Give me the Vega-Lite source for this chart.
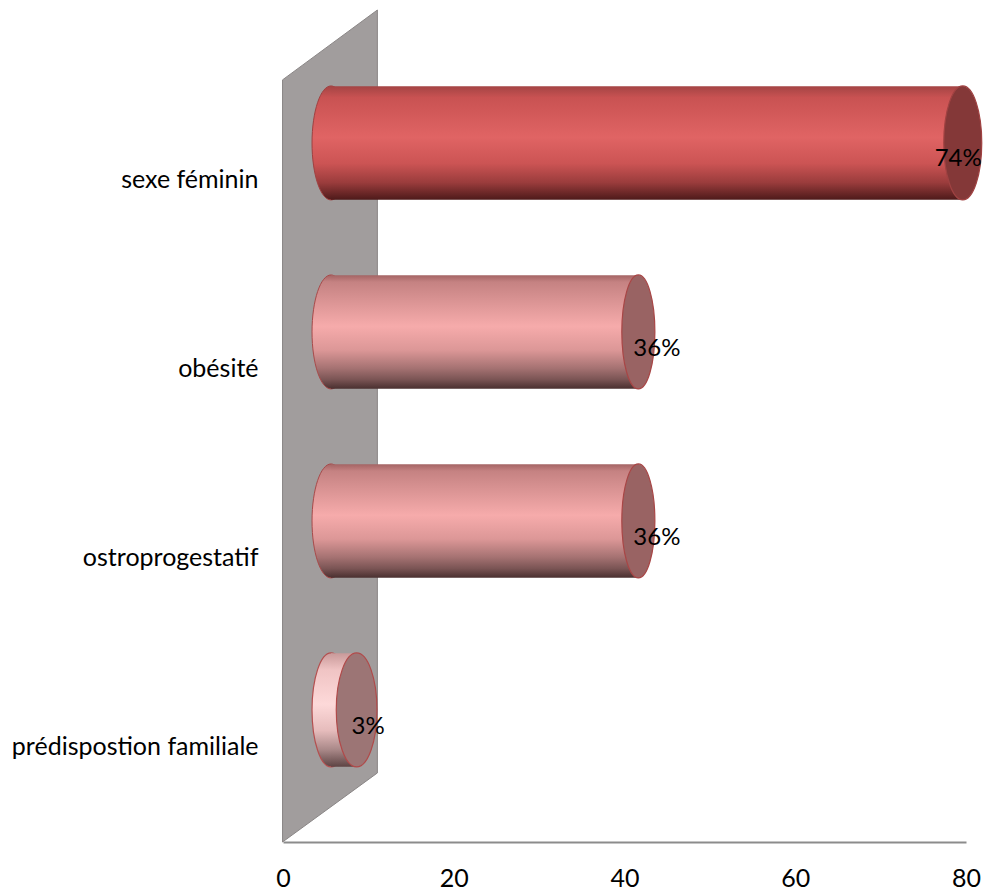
{
  "$schema": "https://vega.github.io/schema/vega-lite/v6.json",
  "width": 683,
  "height": 832,
  "autosize": {"type": "none"},
  "padding": {"left": 283, "top": 10, "right": 19, "bottom": 48},
  "background": "white",
  "config": {
    "view": {"stroke": null},
    "font": "Lato",
    "text": {"font": "Lato"}
  },
  "data": {
    "values": [
      {"facteur": "sexe féminin", "valeur": 74, "label": "74%"},
      {"facteur": "obésité", "valeur": 36, "label": "36%"},
      {"facteur": "ostroprogestatif", "valeur": 36, "label": "36%"},
      {"facteur": "prédispostion familiale", "valeur": 3, "label": "3%"}
    ]
  },
  "encoding": {
    "y": {
      "field": "facteur",
      "type": "nominal",
      "sort": null,
      "scale": {"paddingInner": 0.4, "paddingOuter": 0.401, "align": 0.747},
      "axis": {
        "title": null,
        "domain": false,
        "ticks": false,
        "tickSize": 0,
        "labelPadding": 25,
        "labelFontSize": 25,
        "labelColor": "#000000",
        "labelFont": "Lato",
        "labelLimit": 500
      }
    }
  },
  "layer": [
    {
      "data": {"values": [{}]},
      "mark": {
        "type": "point",
        "filled": true,
        "shape": "M-0.114,-0.832L0.114,-1L0.114,0.834L-0.114,1Z",
        "size": 692224,
        "fill": "#a19d9d",
        "stroke": "#8a8686",
        "strokeWidth": 1,
        "opacity": 1
      },
      "encoding": {
        "x": {"datum": 5.5, "type": "quantitative"},
        "y": null
      }
    },
    {
      "transform": [{"filter": "datum.valeur > 50"}],
      "mark": {
        "type": "point", "filled": true, "opacity": 1,
        "shape": "M0,-1C0.184,-1,0.333,-0.552,0.333,0C0.333,0.552,0.184,1,0,1C-0.184,1,-0.333,0.552,-0.333,0C-0.333,-0.552,-0.184,-1,0,-1Z",
        "size": 12996, "xOffset": 48, "yOffset": -37,
        "fill": {"gradient": "linear", "x1": 0, "y1": 0, "x2": 0, "y2": 1,
          "stops": [{"offset": 0, "color": "#a44444"}, {"offset": 0.1, "color": "#c95252"}, {"offset": 0.45, "color": "#e06464"}, {"offset": 0.68, "color": "#cc5454"}, {"offset": 0.85, "color": "#9a3c3c"}, {"offset": 1, "color": "#4e1a1a"}]},
        "stroke": "#a04040", "strokeWidth": 1
      },
      "encoding": {"x": {"datum": 0, "type": "quantitative"}}
    },
    {
      "transform": [{"filter": "datum.valeur > 50"}],
      "mark": {
        "type": "bar", "xOffset": 48, "yOffset": -37,
        "fill": {"gradient": "linear", "x1": 0, "y1": 0, "x2": 0, "y2": 1,
          "stops": [{"offset": 0, "color": "#a44444"}, {"offset": 0.1, "color": "#c95252"}, {"offset": 0.45, "color": "#e06464"}, {"offset": 0.68, "color": "#cc5454"}, {"offset": 0.85, "color": "#9a3c3c"}, {"offset": 1, "color": "#4e1a1a"}]}
      },
      "encoding": {
        "x": {
          "field": "valeur", "type": "quantitative",
          "scale": {"domain": [0, 80], "nice": false, "zero": true},
          "axis": {
            "title": null, "values": [0, 20, 40, 60, 80], "grid": false,
            "ticks": false, "tickSize": 0,
            "domainColor": "#8c8c8c", "domainWidth": 2,
            "labelPadding": 24, "labelFontSize": 25, "labelColor": "#000000",
            "labelFont": "Lato", "labelFlush": false
          }
        }
      }
    },
    {
      "transform": [{"filter": "datum.valeur > 10 && datum.valeur < 50"}],
      "mark": {
        "type": "point", "filled": true, "opacity": 1,
        "shape": "M0,-1C0.184,-1,0.333,-0.552,0.333,0C0.333,0.552,0.184,1,0,1C-0.184,1,-0.333,0.552,-0.333,0C-0.333,-0.552,-0.184,-1,0,-1Z",
        "size": 12996, "xOffset": 48, "yOffset": -37,
        "fill": {"gradient": "linear", "x1": 0, "y1": 0, "x2": 0, "y2": 1,
          "stops": [{"offset": 0, "color": "#a46464"}, {"offset": 0.06, "color": "#c58282"}, {"offset": 0.45, "color": "#f6abab"}, {"offset": 0.66, "color": "#dc9797"}, {"offset": 0.82, "color": "#a57272"}, {"offset": 0.92, "color": "#7a5454"}, {"offset": 1, "color": "#4a3030"}]},
        "stroke": "#a84a4a", "strokeWidth": 1
      },
      "encoding": {"x": {"datum": 0, "type": "quantitative"}}
    },
    {
      "transform": [{"filter": "datum.valeur > 10 && datum.valeur < 50"}],
      "mark": {
        "type": "bar", "xOffset": 48, "yOffset": -37,
        "fill": {"gradient": "linear", "x1": 0, "y1": 0, "x2": 0, "y2": 1,
          "stops": [{"offset": 0, "color": "#a46464"}, {"offset": 0.06, "color": "#c58282"}, {"offset": 0.45, "color": "#f6abab"}, {"offset": 0.66, "color": "#dc9797"}, {"offset": 0.82, "color": "#a57272"}, {"offset": 0.92, "color": "#7a5454"}, {"offset": 1, "color": "#4a3030"}]}
      },
      "encoding": {"x": {"field": "valeur", "type": "quantitative"}}
    },
    {
      "transform": [{"filter": "datum.valeur < 10"}],
      "mark": {
        "type": "point", "filled": true, "opacity": 1,
        "shape": "M0,-1C0.184,-1,0.333,-0.552,0.333,0C0.333,0.552,0.184,1,0,1C-0.184,1,-0.333,0.552,-0.333,0C-0.333,-0.552,-0.184,-1,0,-1Z",
        "size": 12996, "xOffset": 48, "yOffset": -37,
        "fill": {"gradient": "linear", "x1": 0, "y1": 0, "x2": 0, "y2": 1,
          "stops": [{"offset": 0, "color": "#c99a9a"}, {"offset": 0.15, "color": "#f0c4c4"}, {"offset": 0.45, "color": "#fdd9d9"}, {"offset": 0.68, "color": "#e6bcbc"}, {"offset": 0.85, "color": "#a98888"}, {"offset": 1, "color": "#5e4444"}]},
        "stroke": "#b45050", "strokeWidth": 1.2
      },
      "encoding": {"x": {"datum": 0, "type": "quantitative"}}
    },
    {
      "transform": [{"filter": "datum.valeur < 10"}],
      "mark": {
        "type": "bar", "xOffset": 48, "yOffset": -37,
        "fill": {"gradient": "linear", "x1": 0, "y1": 0, "x2": 0, "y2": 1,
          "stops": [{"offset": 0, "color": "#c99a9a"}, {"offset": 0.15, "color": "#f0c4c4"}, {"offset": 0.45, "color": "#fdd9d9"}, {"offset": 0.68, "color": "#e6bcbc"}, {"offset": 0.85, "color": "#a98888"}, {"offset": 1, "color": "#5e4444"}]}
      },
      "encoding": {"x": {"field": "valeur", "type": "quantitative"}}
    },
    {
      "transform": [{"filter": "datum.valeur > 50"}],
      "mark": {
        "type": "point", "filled": true, "opacity": 1,
        "shape": "M0,-1C0.184,-1,0.333,-0.552,0.333,0C0.333,0.552,0.184,1,0,1C-0.184,1,-0.333,0.552,-0.333,0C-0.333,-0.552,-0.184,-1,0,-1Z",
        "size": 12996, "xOffset": 48, "yOffset": -37,
        "fill": "#843838", "stroke": "#a04242", "strokeWidth": 1.2
      },
      "encoding": {"x": {"field": "valeur", "type": "quantitative"}}
    },
    {
      "transform": [{"filter": "datum.valeur > 10 && datum.valeur < 50"}],
      "mark": {
        "type": "point", "filled": true, "opacity": 1,
        "shape": "M0,-1C0.161,-1,0.29,-0.552,0.29,0C0.29,0.552,0.161,1,0,1C-0.161,1,-0.29,0.552,-0.29,0C-0.29,-0.552,-0.161,-1,0,-1Z",
        "size": 12996, "xOffset": 48, "yOffset": -37,
        "fill": "#996363", "stroke": "#a84646", "strokeWidth": 1.2
      },
      "encoding": {"x": {"field": "valeur", "type": "quantitative"}}
    },
    {
      "transform": [{"filter": "datum.valeur < 10"}],
      "mark": {
        "type": "point", "filled": true, "opacity": 1,
        "shape": "M0,-1C0.197,-1,0.357,-0.552,0.357,0C0.357,0.552,0.197,1,0,1C-0.197,1,-0.357,0.552,-0.357,0C-0.357,-0.552,-0.197,-1,0,-1Z",
        "size": 12996, "xOffset": 48, "yOffset": -37,
        "fill": "#9c7575", "stroke": "#b04a4a", "strokeWidth": 1.2
      },
      "encoding": {"x": {"field": "valeur", "type": "quantitative"}}
    },
    {
      "transform": [{"filter": "datum.valeur < 50"}],
      "mark": {
        "type": "text", "xOffset": 43, "yOffset": -20,
        "align": "left", "baseline": "middle",
        "fontSize": 24, "font": "Lato", "color": "#000000"
      },
      "encoding": {
        "x": {"field": "valeur", "type": "quantitative"},
        "text": {"field": "label", "type": "nominal"}
      }
    },
    {
      "transform": [{"filter": "datum.valeur > 50"}],
      "mark": {
        "type": "text", "xOffset": 67, "yOffset": -21,
        "align": "right", "baseline": "middle",
        "fontSize": 24, "font": "Lato", "color": "#000000"
      },
      "encoding": {
        "x": {"field": "valeur", "type": "quantitative"},
        "text": {"field": "label", "type": "nominal"}
      }
    }
  ]
}
